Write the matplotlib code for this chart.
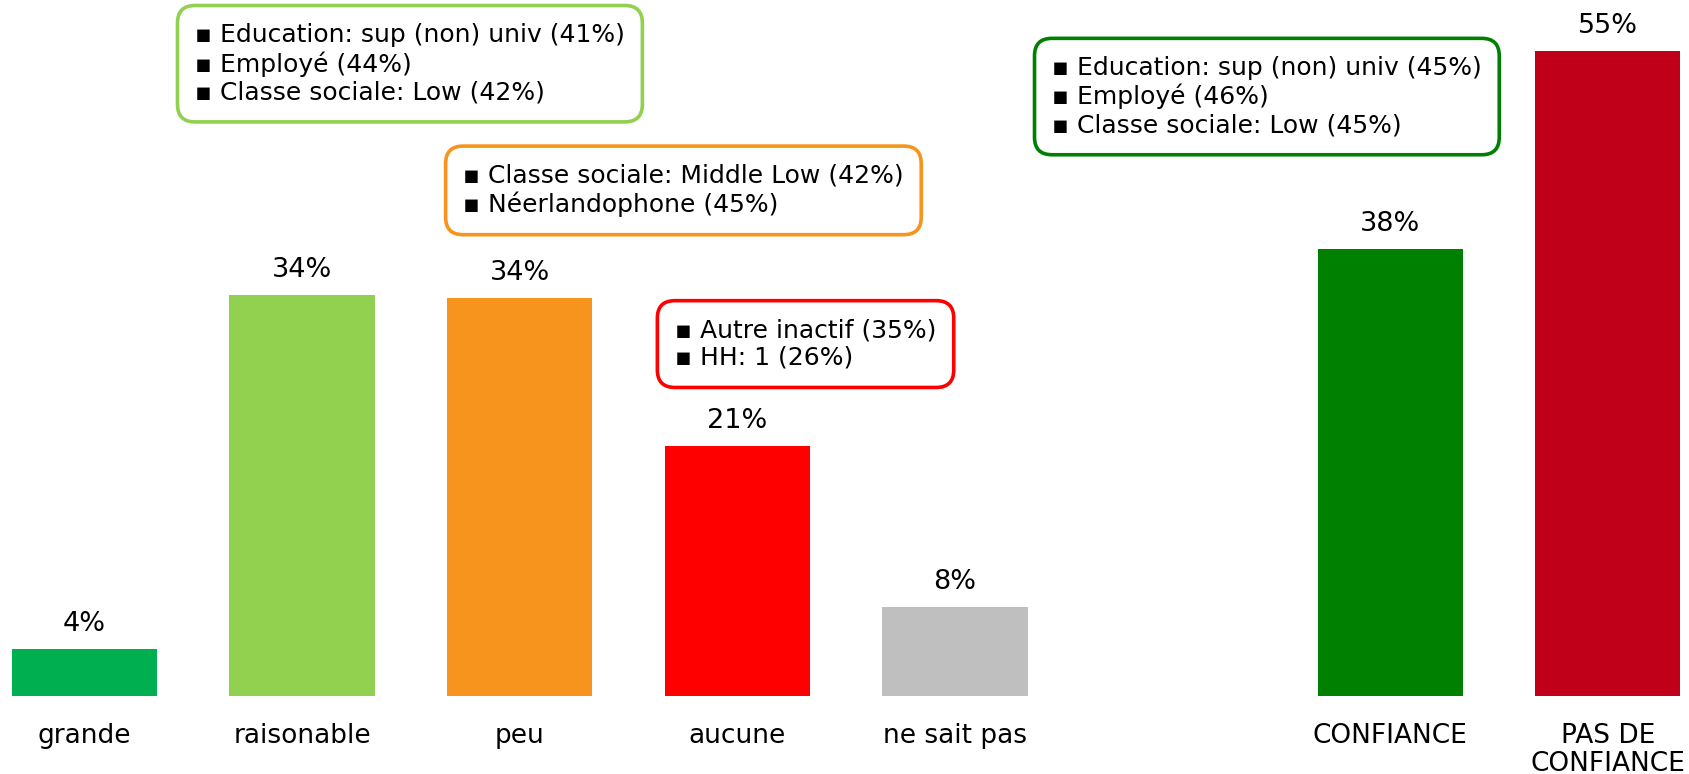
import matplotlib
matplotlib.use('Agg')
import matplotlib.pyplot as plt

# data
cats = ['grande', 'raisonable', 'peu', 'aucune', 'ne sait pas', 'CONFIANCE', 'PAS DE\nCONFIANCE']
pos = [0, 1, 2, 3, 4, 6, 7]
vals = [4.0, 34.2, 33.9, 21.3, 7.6, 38.1, 55.0]
cols = ['#00B050', '#92D050', '#F7941D', '#FF0000', '#BFBFBF', '#008000', '#C00018']

notes = [
    ['Education: sup (non) univ (41%)', 'Employé (44%)', 'Classe sociale: Low (42%)'],
    ['Classe sociale: Middle Low (42%)', 'Néerlandophone (45%)'],
    ['Autre inactif (35%)', 'HH: 1 (26%)'],
    ['Education: sup (non) univ (45%)', 'Employé (46%)', 'Classe sociale: Low (45%)'],
]
note_cols = ['#92D050', '#F7941D', '#FF0000', '#008000']
note_xy = [(0.508, 53.9), (1.74, 43.1), (2.713, 30.0), (4.446, 51.1)]

plt.rcParams['font.family'] = ['DejaVu Sans']

fig = plt.figure(figsize=(16.89, 7.74), dpi=100)
ax = fig.add_axes([0, 0.1008, 1, 0.8992])

ax.bar(pos, vals, width=0.667, color=cols)
for x, v in zip(pos, vals):
    ax.text(x, v + 2.15, '%.0f%%' % v, ha='center', va='center', fontsize=19.5)

for lines, c, (x, y) in zip(notes, note_cols, note_xy):
    txt = '\n'.join(['\u25aa ' + l for l in lines])
    ax.text(x, y, txt, ha='left', va='center', fontsize=18, linespacing=1.2,
            bbox=dict(boxstyle='round,pad=0.7,rounding_size=0.7', fc='white', ec=c, lw=2.6))

ax.set_xlim(-0.388, 7.373)
ax.set_ylim(0, 59.33)
ax.set_xticks(pos)
ax.set_xticklabels(cats, fontsize=19, linespacing=1.12)
ax.tick_params(axis='x', length=0, pad=19.5)
ax.set_yticks([])
for s in ax.spines.values():
    s.set_visible(False)

fig.savefig('out.png', dpi=100)
